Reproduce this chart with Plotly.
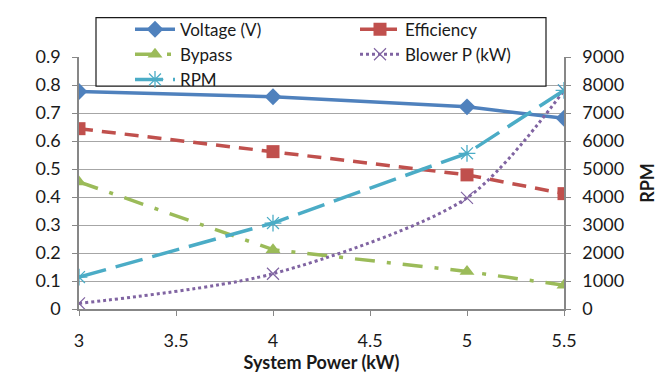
import plotly.graph_objects as go

system_power = [3, 4, 5, 5.5]
voltage = [0.777, 0.758, 0.722, 0.681]
efficiency = [0.644, 0.562, 0.479, 0.412]
bypass = [0.454, 0.212, 0.134, 0.085]
blower_p = [0.02, 0.126, 0.397, 0.78]
rpm = [1140, 3070, 5560, 7810]

FONT = "Lato"
fig = go.Figure()

fig.add_trace(go.Scatter(x=system_power, y=voltage, name="Voltage (V)", mode="lines+markers",
                         legend="legend",
                         line=dict(color="#4F81BD", width=3.5),
                         marker=dict(symbol="diamond", size=13, color="#4F81BD")))
fig.add_trace(go.Scatter(x=system_power, y=efficiency, name="Efficiency", mode="lines+markers",
                         legend="legend2",
                         line=dict(color="#C0504D", width=3.5, dash="14px,9px"),
                         marker=dict(symbol="square", size=13, color="#C0504D")))
fig.add_trace(go.Scatter(x=system_power, y=bypass, name="Bypass", mode="lines+markers",
                         legend="legend",
                         line=dict(color="#9BBB59", width=3.5, dash="20px,12px,4px,12px"),
                         marker=dict(symbol="triangle-up", size=13, color="#9BBB59")))
fig.add_trace(go.Scatter(x=system_power, y=blower_p, name="Blower P (kW)", mode="lines+markers",
                         legend="legend2",
                         line=dict(color="#8064A2", width=3, dash="dot", shape="spline", smoothing=0.8),
                         marker=dict(symbol="x-thin-open", size=12, color="#8064A2",
                                     line=dict(color="#8064A2", width=1.2))))
fig.add_trace(go.Scatter(x=system_power, y=rpm, name="RPM", mode="lines+markers", yaxis="y2",
                         legend="legend",
                         line=dict(color="#4BACC6", width=3.5, dash="28px,10px"),
                         marker=dict(symbol="asterisk-open", size=14, color="#4BACC6",
                                     line=dict(color="#4BACC6", width=1.3))))

axis_common = dict(showline=True, linecolor="#878787", linewidth=1.5,
                   ticks="outside", ticklen=5, tickcolor="#878787", automargin=False,
                   tickfont=dict(family=FONT, size=18, color="#1a1a1a"))

legend_common = dict(orientation="v", y=1.18, xanchor="left", yanchor="top",
                     bgcolor="rgba(0,0,0,0)", font=dict(family=FONT, size=17, color="#1a1a1a"),
                     itemwidth=40, tracegroupgap=0)

fig.update_layout(
    width=667, height=373,
    margin=dict(l=79, r=103, t=53, b=64),
    paper_bgcolor="white", plot_bgcolor="white",
    font=dict(family=FONT, size=17, color="#1a1a1a"),
    xaxis=dict(range=[3, 5.5], dtick=0.5, tick0=3, showgrid=False, ticklabelstandoff=10,
               title=dict(text="<b>System Power (kW)</b>", font=dict(family=FONT, size=18), standoff=0),
               **axis_common),
    yaxis=dict(range=[0, 0.9], dtick=0.1, showgrid=True, gridcolor="#a6a6a6", gridwidth=1.2,
               zeroline=False, ticklabelstandoff=8, **axis_common),
    yaxis2=dict(range=[0, 9000], dtick=1000, overlaying="y", side="right", showgrid=False,
                zeroline=False, ticklabelstandoff=8,
                title=dict(text="<b>RPM</b>", font=dict(family=FONT, size=18), standoff=18),
                **axis_common),
    legend=dict(x=(130 - 79) / 485, **legend_common),
    legend2=dict(x=(355 - 79) / 485, **legend_common),
    showlegend=True,
    shapes=[dict(type="rect", xref="paper", yref="paper",
                 x0=(96 - 79) / 485, x1=(546 - 79) / 485,
                 y0=(309.3 - 82.3) / 256.6, y1=(309.3 - 12.7) / 256.6,
                 fillcolor="white", line=dict(color="#1a1a1a", width=1.2), layer="above")],
)

fig.write_html("out.html")
